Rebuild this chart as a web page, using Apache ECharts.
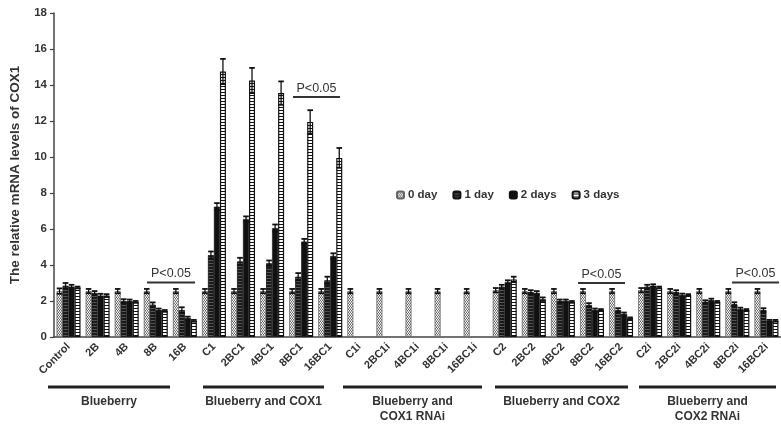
<!DOCTYPE html>
<html><head><meta charset="utf-8">
<script src="https://cdn.jsdelivr.net/npm/echarts@6/dist/echarts.min.js"></script>
<style>html,body{margin:0;padding:0;background:#fff}#c{width:781px;height:427px}</style>
</head><body><div id="c"></div>
<script>
const categories = ['Control','2B','4B','8B','16B','C1','2BC1','4BC1','8BC1','16BC1','C1i','2BC1i','4BC1i','8BC1i','16BC1i','C2','2BC2','4BC2','8BC2','16BC2','C2i','2BC2i','4BC2i','8BC2i','16BC2i'];
const seriesNames = ['0 day','1 day','2 days','3 days'];
const day0 = [2.55,2.55,2.55,2.55,2.55, 2.55,2.55,2.55,2.55,2.55, 2.55,2.55,2.55,2.55,2.55, 2.6,2.55,2.55,2.55,2.55, 2.6,2.55,2.55,2.55,2.55];
const day1 = [2.85,2.45,2.0,1.8,1.5, 4.55,4.2,4.1,3.35,3.15, null,null,null,null,null, 2.8,2.5,2.0,1.78,1.5, 2.8,2.5,1.96,1.83,1.5];
const day2 = [2.8,2.3,2.0,1.5,1.05, 7.24,6.55,6.05,5.3,4.5, null,null,null,null,null, 3.05,2.45,2.0,1.5,1.28, 2.85,2.33,2.05,1.55,0.9];
const day3 = [2.75,2.3,1.95,1.45,0.9, 14.75,14.25,13.55,11.95,9.95, null,null,null,null,null, 3.2,2.1,1.95,1.5,1.04, 2.75,2.33,1.95,1.5,0.9];
const err0 = [0.15,0.12,0.12,0.12,0.12, 0.12,0.12,0.12,0.12,0.12, 0.12,0.12,0.12,0.12,0.12, 0.12,0.12,0.12,0.12,0.12, 0.12,0.12,0.12,0.12,0.12];
const err1 = [0.15,0.1,0.1,0.12,0.15, 0.2,0.2,0.15,0.2,0.2, null,null,null,null,null, 0.1,0.1,0.08,0.1,0.1, 0.1,0.1,0.08,0.1,0.1];
const err2 = [0.1,0.1,0.08,0.08,0.08, 0.2,0.15,0.2,0.15,0.15, null,null,null,null,null, 0.1,0.1,0.08,0.08,0.08, 0.08,0.08,0.08,0.08,0.05];
const err3 = [0.05,0.08,0.05,0.05,0.05, 0.7,0.7,0.65,0.65,0.55, null,null,null,null,null, 0.15,0.1,0.05,0.05,0.05, 0.05,0.05,0.05,0.05,0.05];
const yTicks = {min:0, max:18, interval:2};
const groups = [
  {label:'Blueberry', x1:48, x2:170},
  {label:'Blueberry and COX1', x1:203, x2:324},
  {label:'Blueberry and\nCOX1 RNAi', x1:343, x2:482},
  {label:'Blueberry and COX2', x1:495, x2:628},
  {label:'Blueberry and\nCOX2 RNAi', x1:639, x2:776}
];
const pMarks = [
  {text:'P<0.05', x1:147, x2:195, y:282.5},
  {text:'P<0.05', x1:293, x2:340, y:97},
  {text:'P<0.05', x1:578, x2:625, y:283},
  {text:'P<0.05', x1:732, x2:779, y:282.5}
];

function pat(w,h,draw){const c=document.createElement('canvas');c.width=w;c.height=h;const g=c.getContext('2d');draw(g);return {image:c,repeat:'repeat'};}
const p0 = pat(4,3,g=>{g.fillStyle='#fff';g.fillRect(0,0,4,3);g.fillStyle='#666';g.fillRect(0,0,1,1);g.fillRect(2,0,1,1);g.fillRect(1,1,1,1);g.fillRect(3,1,1,1);g.fillStyle='#bbb';g.fillRect(0,2,4,1);});
const p1 = pat(2,3,g=>{g.fillStyle='#1a1a1a';g.fillRect(0,0,2,3);g.fillStyle='#555';g.fillRect(0,2,2,1);});
const p3 = pat(2,3,g=>{g.fillStyle='#fff';g.fillRect(0,0,2,3);g.fillStyle='#111';g.fillRect(0,2,2,1);});
const styles = [
  {color:p0,borderColor:'#666',borderWidth:0.8},
  {color:p1,borderColor:'#111',borderWidth:0.8},
  {color:'#111',borderColor:'#111',borderWidth:0.5},
  {color:p3,borderColor:'#111',borderWidth:1.2}
];
const vals=[day0,day1,day2,day3], errs=[err0,err1,err2,err3];
const barW=6, offsets=[-9,-3,3,9];
const FONT='"Liberation Sans", Arial, sans-serif';

const series=[];
vals.forEach((v,i)=>{
  series.push({name:seriesNames[i],type:'bar',data:v,barWidth:barW,barGap:'0%',itemStyle:styles[i],z:2});
});
vals.forEach((v,i)=>{
  series.push({type:'custom',name:'err'+i,z:3,
    data:v.map((val,k)=>[k,val,errs[i][k]]).filter(d=>d[1]!=null),
    encode:{x:0,y:1},
    renderItem:function(params,api){
      const x=api.value(0),val=api.value(1),e=api.value(2);
      const t=api.coord([x,val+e]),b=api.coord([x,val-e]);
      const cx=t[0]+offsets[i],hw=2.8;
      const st={stroke:'#111',lineWidth:1.3};
      return {type:'group',children:[
        {type:'line',shape:{x1:cx,y1:t[1],x2:cx,y2:b[1]},style:st},
        {type:'line',shape:{x1:cx-hw,y1:t[1],x2:cx+hw,y2:t[1]},style:{stroke:'#111',lineWidth:1.8}},
        {type:'line',shape:{x1:cx-hw,y1:b[1],x2:cx+hw,y2:b[1]},style:{stroke:'#111',lineWidth:1.8}}
      ]};
    }});
});

const graphic=[];
groups.forEach(g=>{
  graphic.push({type:'rect',shape:{x:g.x1,y:385.5,width:g.x2-g.x1,height:3},style:{fill:'#222'}});
  graphic.push({type:'text',x:(g.x1+g.x2)/2,y:394,style:{text:g.label,fill:'#333',font:'bold 12px '+FONT,textAlign:'center',textVerticalAlign:'top',lineHeight:15}});
});
pMarks.forEach(p=>{
  graphic.push({type:'rect',shape:{x:p.x1,y:p.y-1,width:p.x2-p.x1,height:2},style:{fill:'#333'}});
  graphic.push({type:'text',x:(p.x1+p.x2)/2,y:p.y-2,style:{text:p.text,fill:'#333',font:'12.5px '+FONT,textAlign:'center',textVerticalAlign:'bottom'}});
});

const chart=echarts.init(document.getElementById('c'),null,{renderer:'canvas'});
chart.setOption({
  animation:false,
  backgroundColor:'#fff',
  textStyle:{fontFamily:FONT},
  grid:{left:53,top:13,width:733,height:324},
  legend:{data:seriesNames,left:391,top:184,itemWidth:7,itemHeight:7,itemGap:15,
    textStyle:{fontSize:11.5,fontWeight:'bold',color:'#333',fontFamily:FONT,padding:[0,0,0,-1]}},
  xAxis:{type:'category',data:categories,
    axisLine:{lineStyle:{color:'#444',width:1.5}},
    axisTick:{length:4,lineStyle:{color:'#444',width:1.2}},
    axisLabel:{interval:0,rotate:45,fontSize:11,fontWeight:'bold',color:'#333',margin:8,fontFamily:FONT}},
  yAxis:{type:'value',min:yTicks.min,max:yTicks.max,interval:yTicks.interval,
    name:'The relative mRNA levels of COX1',nameLocation:'middle',nameGap:32,
    nameTextStyle:{fontSize:13.5,fontWeight:'bold',color:'#333',fontFamily:FONT},
    axisLine:{show:true,lineStyle:{color:'#444',width:1.5}},
    axisTick:{show:true,length:4,lineStyle:{color:'#444',width:1.2}},
    splitLine:{show:false},
    axisLabel:{fontSize:11.5,fontWeight:'bold',color:'#333',margin:7,fontFamily:FONT}},
  series:series,
  graphic:graphic
});
</script></body></html>
